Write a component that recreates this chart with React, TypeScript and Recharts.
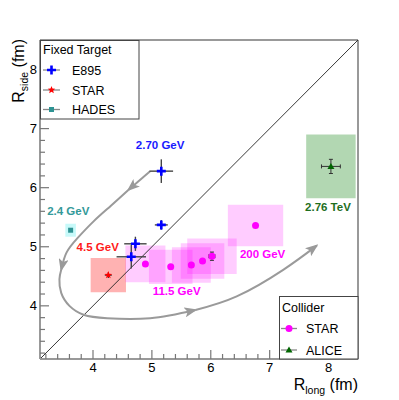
import {
  ComposedChart,
  Scatter,
  Line,
  XAxis,
  YAxis,
  ErrorBar,
  ReferenceArea,
  ReferenceLine,
  ReferenceDot,
} from 'recharts'

const FONT = '"Liberation Sans", Arial, Helvetica, sans-serif'

// E895 (fixed target) - R_long, R_side in fm
const e895Long = [5.16, 5.16, 4.72, 4.65]
const e895Side = [6.28, 5.37, 5.05, 4.83]
const e895ErrLong = [0.2, 0.11, 0.19, 0.25]
const e895ErrSide = [0.2, 0.08, 0.12, 0.2]

// STAR fixed target, 4.5 GeV
const fxtLong = [4.26]
const fxtSide = [4.52]
const fxtErrLong = [0.06]
const fxtErrSide = [0.05]
const fxtSysLong = [0.3]
const fxtSysSide = [0.29]

// HADES, 2.4 GeV
const hadesLong = [3.62]
const hadesSide = [5.28]
const hadesSysLong = [0.09]
const hadesSysSide = [0.11]

// STAR collider, 7.7 ... 200 GeV
const starLong = [4.89, 5.32, 5.67, 5.86, 6.02, 6.76]
const starSide = [4.71, 4.66, 4.69, 4.76, 4.84, 5.36]
const starErrLong = [0, 0, 0, 0, 0.05, 0]
const starErrSide = [0, 0, 0, 0, 0.07, 0]
const starSysLong = [0.34, 0.37, 0.33, 0.37, 0.42, 0.47]
const starSysSide = [0.31, 0.29, 0.3, 0.3, 0.3, 0.35]

// ALICE, 2.76 TeV
const aliceLong = [8.04]
const aliceSide = [6.36]
const aliceErrLong = [0.16]
const aliceErrSide = [0.12]
const aliceSysLong = [0.42]
const aliceSysSide = [0.54]

// gray guide arrows (split where the arrow heads sit)
const arrow1Long = [4.97, 4.6]
const arrow1Side = [6.28, 5.96]
const arrow2Long = [4.6, 4.3, 4.01, 3.74, 3.55, 3.46]
const arrow2Side = [5.96, 5.69, 5.43, 5.15, 4.9, 4.61]
const arrow3Long = [3.46, 3.43, 3.46, 3.6, 3.84, 4.24, 4.97, 5.74]
const arrow3Side = [4.61, 4.45, 4.22, 4.0, 3.85, 3.79, 3.79, 3.93]
const arrow4Long = [5.74, 6.44, 7.23, 7.8]
const arrow4Side = [3.93, 4.16, 4.61, 5.02]

// energy labels
const noteText = ['2.70 GeV', '2.4 GeV', '4.5 GeV', '11.5 GeV', '200 GeV', '2.76 TeV']
const noteLong = [5.14, 3.58, 4.08, 5.42, 6.88, 7.99]
const noteSide = [6.72, 5.61, 5.0, 4.25, 4.88, 5.68]
const noteColor = ['#1a1aff', '#339999', '#ff1a1a', '#ff00ff', '#ff00ff', '#1e6e1e']

const domain: [number, number] = [3.1, 8.5]
const majorTicks = [4, 5, 6, 7, 8]
const minorTicks = [
  3.2, 3.4, 3.6, 3.8, 4, 4.2, 4.4, 4.6, 4.8, 5, 5.2, 5.4, 5.6, 5.8, 6, 6.2, 6.4, 6.6, 6.8, 7,
  7.2, 7.4, 7.6, 7.8, 8, 8.2, 8.4,
]

const pts = (xs: number[], ys: number[], ex?: number[], ey?: number[]) =>
  xs.map((x, i) => ({ x, y: ys[i], ex: ex ? ex[i] : 0, ey: ey ? ey[i] : 0 }))

const e895Data = pts(e895Long, e895Side, e895ErrLong, e895ErrSide)
const fxtData = pts(fxtLong, fxtSide, fxtErrLong, fxtErrSide)
const hadesData = pts(hadesLong, hadesSide)
const starData = pts(starLong, starSide, starErrLong, starErrSide)
const aliceData = pts(aliceLong, aliceSide, aliceErrLong, aliceErrSide)
const arrows = [
  pts(arrow1Long, arrow1Side),
  pts(arrow2Long, arrow2Side),
  pts(arrow3Long, arrow3Side),
  pts(arrow4Long, arrow4Side),
]

const boxes = [
  ...fxtLong.map((x, i) => ({ x, y: fxtSide[i], dx: fxtSysLong[i], dy: fxtSysSide[i], fill: '#ff0000', op: 0.3 })),
  ...hadesLong.map((x, i) => ({ x, y: hadesSide[i], dx: hadesSysLong[i], dy: hadesSysSide[i], fill: '#00e5e5', op: 0.22 })),
  ...starLong.map((x, i) => ({ x, y: starSide[i], dx: starSysLong[i], dy: starSysSide[i], fill: '#ff00ff', op: 0.2 })),
  ...aliceLong.map((x, i) => ({ x, y: aliceSide[i], dx: aliceSysLong[i], dy: aliceSysSide[i], fill: '#007a00', op: 0.3 })),
]

function CrossMark({ cx, cy, color }: any) {
  return (
    <path
      d={`M${cx - 4.5},${cy - 1.3}h3.2v-3.2h2.6v3.2h3.2v2.6h-3.2v3.2h-2.6v-3.2h-3.2z`}
      fill={color}
    />
  )
}

function StarMark({ cx, cy, color }: any) {
  const p: string[] = []
  for (let k = 0; k < 10; k++) {
    const r = k % 2 === 0 ? 4 : 1.7
    const a = -Math.PI / 2 + (k * Math.PI) / 5
    p.push(`${cx + r * Math.cos(a)},${cy + r * Math.sin(a)}`)
  }
  return <polygon points={p.join(' ')} fill={color} />
}

function SquareMark({ cx, cy, color }: any) {
  return <rect x={cx - 2.5} y={cy - 2.5} width={5} height={5} fill={color} />
}

function CircleMark({ cx, cy, color }: any) {
  return <circle cx={cx} cy={cy} r={3.5} fill={color} />
}

function TriangleMark({ cx, cy, color }: any) {
  return <path d={`M${cx},${cy - 3.5}L${cx + 3.5},${cy + 2.5}L${cx - 3.5},${cy + 2.5}z`} fill={color} />
}

function XTick({ x, y, payload }: any) {
  const v = payload.value
  const major = majorTicks.includes(v)
  return (
    <g>
      <line x1={x} y1={y} x2={x} y2={y - (major ? 9 : 5)} stroke="#777" strokeWidth={1.2} />
      {major && (
        <text x={x} y={y + 13} textAnchor="middle" fontSize={13} fill="#000">
          {v}
        </text>
      )}
    </g>
  )
}

function YTick({ x, y, payload }: any) {
  const v = payload.value
  const major = majorTicks.includes(v)
  return (
    <g>
      <line x1={x} y1={y} x2={x + (major ? 9 : 5)} y2={y} stroke="#777" strokeWidth={1.2} />
      {major && (
        <text x={x - 3} y={y + 4.5} textAnchor="end" fontSize={13} fill="#000">
          {v}
        </text>
      )}
    </g>
  )
}

function XTitle(props: any) {
  const vb = props.viewBox ?? { x: 40, y: 359, width: 318 }
  return (
    <text x={vb.x + vb.width} y={vb.y + 31} textAnchor="end" fontSize={16} fill="#000">
      R<tspan fontSize={10.5} dy={4}>long</tspan>
      <tspan dy={-4}>{'\u00a0(fm)'}</tspan>
    </text>
  )
}

function YTitle(props: any) {
  const vb = props.viewBox ?? { x: 39, y: 40 }
  return (
    <text transform={`translate(${vb.x - 15},${vb.y - 1}) rotate(-90)`} textAnchor="end" fontSize={16} fill="#000">
      R<tspan fontSize={10.5} dy={4}>side</tspan>
      <tspan dy={-4}>{'\u00a0(fm)'}</tspan>
    </text>
  )
}

function LegendRow({ y, x0, x1, tx, label, children }: any) {
  return (
    <g>
      <line x1={x0} y1={y} x2={x1} y2={y} stroke="#888" strokeWidth={1.3} />
      {children}
      <text x={tx} y={y + 4.5} fontSize={12.5} fill="#000">
        {label}
      </text>
    </g>
  )
}

function FixedTargetLegend() {
  return (
    <svg style={{ position: 'absolute', left: 40, top: 40 }} width={100} height={80}>
      <rect x={0.5} y={0.5} width={98.5} height={78.5} fill="#fff" stroke="#444" />
      <text x={3} y={14} fontSize={12.5} fill="#000">Fixed Target</text>
      <LegendRow y={30} x0={3} x1={20} tx={32} label="E895">
        <CrossMark cx={11.5} cy={30} color="#0000ff" />
      </LegendRow>
      <LegendRow y={50} x0={3} x1={20} tx={32} label="STAR">
        <StarMark cx={11.5} cy={50} color="#ff0000" />
      </LegendRow>
      <LegendRow y={69.5} x0={3} x1={20} tx={32} label="HADES">
        <SquareMark cx={11.5} cy={69.5} color="#2e9393" />
      </LegendRow>
    </svg>
  )
}

function ColliderLegend() {
  return (
    <svg style={{ position: 'absolute', left: 279, top: 296 }} width={80} height={64}>
      <rect x={0.5} y={0.5} width={78.5} height={62.5} fill="#fff" stroke="#444" />
      <text x={3} y={15.5} fontSize={12.5} fill="#000">Collider</text>
      <LegendRow y={32.5} x0={2} x1={18} tx={27} label="STAR">
        <CircleMark cx={10} cy={32.5} color="#ff00ff" />
      </LegendRow>
      <LegendRow y={54} x0={2} x1={18} tx={27} label="ALICE">
        <TriangleMark cx={10} cy={54} color="#006600" />
      </LegendRow>
    </svg>
  )
}

export default function App() {
  return (
    <div style={{ position: 'absolute', left: 0, top: 0, width: 399, height: 400, fontFamily: FONT, background: '#fff' }}>
      <ComposedChart width={399} height={400} margin={{ top: 40, right: 41, bottom: 40, left: 39 }}>
        <defs>
          <marker
            id="arrowHead"
            viewBox="0 0 13 10"
            refX={11}
            refY={5}
            markerWidth={13}
            markerHeight={10}
            markerUnits="userSpaceOnUse"
            orient="auto"
          >
            <path d="M0,0 L13,5 L0,10 L3,5 z" fill="#9a9a9a" />
          </marker>
        </defs>
        <XAxis
          xAxisId={0}
          type="number"
          dataKey="x"
          domain={domain}
          allowDataOverflow
          ticks={minorTicks}
          interval={0}
          height={1}
          tickSize={0}
          tickMargin={0}
          tickLine={false}
          tick={(p: any) => <XTick {...p} />}
          axisLine={{ stroke: '#999', strokeWidth: 2 }}
          label={{ content: (p: any) => <XTitle {...p} /> }}
        />
        <YAxis
          yAxisId={0}
          type="number"
          dataKey="y"
          domain={domain}
          allowDataOverflow
          ticks={minorTicks}
          interval={0}
          width={1}
          tickSize={0}
          tickMargin={0}
          tickLine={false}
          tick={(p: any) => <YTick {...p} />}
          axisLine={{ stroke: '#999', strokeWidth: 2 }}
          label={{ content: (p: any) => <YTitle {...p} /> }}
        />
        <ReferenceLine x={8.5} stroke="#999" strokeWidth={2} />
        <ReferenceLine y={8.5} stroke="#999" strokeWidth={2} />
        {boxes.map((b, i) => (
          <ReferenceArea
            key={`box-${i}`}
            x1={b.x - b.dx}
            x2={b.x + b.dx}
            y1={b.y - b.dy}
            y2={b.y + b.dy}
            fill={b.fill}
            fillOpacity={b.op}
            stroke="none"
          />
        ))}
        <ReferenceLine
          segment={[
            { x: domain[0], y: domain[0] },
            { x: domain[1], y: domain[1] },
          ]}
          stroke="#222"
          strokeWidth={0.9}
        />
        {arrows.map((a, i) => (
          <Line
            key={`arrow-${i}`}
            data={a}
            dataKey="y"
            type="natural"
            stroke="#9a9a9a"
            strokeWidth={2}
            dot={false}
            activeDot={false}
            markerEnd="url(#arrowHead)"
            isAnimationActive={false}
          />
        ))}
        <Scatter
          data={hadesData}
          isAnimationActive={false}
          shape={(p: any) => <SquareMark cx={p.cx} cy={p.cy} color="#2e9393" />}
        />
        <Scatter
          data={fxtData}
          isAnimationActive={false}
          shape={(p: any) => <StarMark cx={p.cx} cy={p.cy} color="#ff0000" />}
        >
          <ErrorBar dataKey="ex" direction="x" width={0} stroke="#333" strokeWidth={1.2} />
          <ErrorBar dataKey="ey" direction="y" width={0} stroke="#333" strokeWidth={1.2} />
        </Scatter>
        <Scatter
          data={starData}
          isAnimationActive={false}
          shape={(p: any) => <CircleMark cx={p.cx} cy={p.cy} color="#ff00ff" />}
        >
          <ErrorBar dataKey="ex" direction="x" width={2} stroke="#333" strokeWidth={1} />
          <ErrorBar dataKey="ey" direction="y" width={2} stroke="#333" strokeWidth={1} />
        </Scatter>
        <Scatter
          data={e895Data}
          isAnimationActive={false}
          shape={(p: any) => <CrossMark cx={p.cx} cy={p.cy} color="#0000ff" />}
        >
          <ErrorBar dataKey="ex" direction="x" width={0} stroke="#444" strokeWidth={1.4} />
          <ErrorBar dataKey="ey" direction="y" width={0} stroke="#444" strokeWidth={1.4} />
        </Scatter>
        <Scatter
          data={aliceData}
          isAnimationActive={false}
          shape={(p: any) => <TriangleMark cx={p.cx} cy={p.cy} color="#006600" />}
        >
          <ErrorBar dataKey="ex" direction="x" width={2} stroke="#333" strokeWidth={1} />
          <ErrorBar dataKey="ey" direction="y" width={2} stroke="#333" strokeWidth={1} />
        </Scatter>
        {noteText.map((t, i) => (
          <ReferenceDot
            key={`note-${i}`}
            x={noteLong[i]}
            y={noteSide[i]}
            r={0}
            fill="none"
            stroke="none"
            label={{ value: t, position: 'center', fill: noteColor[i], fontSize: 11.5, fontWeight: 'bold' }}
          />
        ))}
      </ComposedChart>
      <FixedTargetLegend />
      <ColliderLegend />
    </div>
  )
}
